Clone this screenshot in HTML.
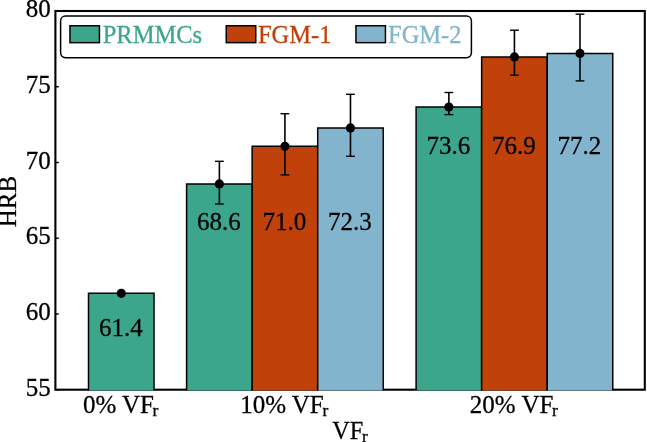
<!DOCTYPE html><html><head><meta charset="utf-8"><style>html,body{margin:0;padding:0;background:#fff;overflow:hidden}svg{display:block}text{font-family:"Liberation Serif",serif;stroke:#000;stroke-width:0.28px}#w{position:absolute;left:0;top:0;width:647px;height:442px;will-change:transform}</style></head><body><div id="w">
<svg width="647" height="442" viewBox="0 0 647 442">
<rect width="647" height="442" fill="#fff"/>
<defs><clipPath id="ax"><rect x="55.4" y="11" width="589.4" height="379.6"/></clipPath></defs>
<rect x="55.4" y="11" width="589.4" height="378.7" fill="none" stroke="#000" stroke-width="2.1"/>
<line x1="55.4" y1="389.75" x2="58.8" y2="389.75" stroke="#000" stroke-width="1.4"/>
<text x="50.8" y="395.95" text-anchor="end" font-family="Liberation Serif" font-size="25">55</text>
<line x1="55.4" y1="314.00" x2="58.8" y2="314.00" stroke="#000" stroke-width="1.4"/>
<text x="50.8" y="320.20" text-anchor="end" font-family="Liberation Serif" font-size="25">60</text>
<line x1="55.4" y1="238.25" x2="58.8" y2="238.25" stroke="#000" stroke-width="1.4"/>
<text x="50.8" y="244.45" text-anchor="end" font-family="Liberation Serif" font-size="25">65</text>
<line x1="55.4" y1="162.50" x2="58.8" y2="162.50" stroke="#000" stroke-width="1.4"/>
<text x="50.8" y="168.70" text-anchor="end" font-family="Liberation Serif" font-size="25">70</text>
<line x1="55.4" y1="86.75" x2="58.8" y2="86.75" stroke="#000" stroke-width="1.4"/>
<text x="50.8" y="92.95" text-anchor="end" font-family="Liberation Serif" font-size="25">75</text>
<line x1="55.4" y1="11.00" x2="58.8" y2="11.00" stroke="#000" stroke-width="1.4"/>
<text x="50.8" y="17.20" text-anchor="end" font-family="Liberation Serif" font-size="25">80</text>
<g clip-path="url(#ax)">
<path d="M88.50 395 V293.30 H154.05 V395" fill="#3BA68B" stroke="#000" stroke-width="1.5"/>
<path d="M186.60 395 V183.90 H252.15 V395" fill="#3BA68B" stroke="#000" stroke-width="1.5"/>
<path d="M252.15 395 V146.30 H317.70 V395" fill="#C0410A" stroke="#000" stroke-width="1.5"/>
<path d="M317.70 395 V127.90 H383.25 V395" fill="#82B4CE" stroke="#000" stroke-width="1.5"/>
<path d="M416.10 395 V107.00 H481.65 V395" fill="#3BA68B" stroke="#000" stroke-width="1.5"/>
<path d="M481.65 395 V56.90 H547.20 V395" fill="#C0410A" stroke="#000" stroke-width="1.5"/>
<path d="M547.20 395 V53.40 H612.75 V395" fill="#82B4CE" stroke="#000" stroke-width="1.5"/>
</g>
<circle cx="121.28" cy="293.30" r="4.6" fill="#000"/>
<line x1="219.38" y1="161.30" x2="219.38" y2="204.00" stroke="#000" stroke-width="1.6"/>
<line x1="214.97" y1="161.30" x2="223.78" y2="161.30" stroke="#000" stroke-width="1.4"/>
<line x1="214.97" y1="204.00" x2="223.78" y2="204.00" stroke="#000" stroke-width="1.4"/>
<circle cx="219.38" cy="183.90" r="4.6" fill="#000"/>
<line x1="284.92" y1="113.70" x2="284.92" y2="174.90" stroke="#000" stroke-width="1.6"/>
<line x1="280.52" y1="113.70" x2="289.32" y2="113.70" stroke="#000" stroke-width="1.4"/>
<line x1="280.52" y1="174.90" x2="289.32" y2="174.90" stroke="#000" stroke-width="1.4"/>
<circle cx="284.92" cy="146.30" r="4.6" fill="#000"/>
<line x1="350.47" y1="94.30" x2="350.47" y2="156.30" stroke="#000" stroke-width="1.6"/>
<line x1="346.07" y1="94.30" x2="354.87" y2="94.30" stroke="#000" stroke-width="1.4"/>
<line x1="346.07" y1="156.30" x2="354.87" y2="156.30" stroke="#000" stroke-width="1.4"/>
<circle cx="350.47" cy="127.90" r="4.6" fill="#000"/>
<line x1="448.88" y1="92.50" x2="448.88" y2="114.60" stroke="#000" stroke-width="1.6"/>
<line x1="444.48" y1="92.50" x2="453.27" y2="92.50" stroke="#000" stroke-width="1.4"/>
<line x1="444.48" y1="114.60" x2="453.27" y2="114.60" stroke="#000" stroke-width="1.4"/>
<circle cx="448.88" cy="107.00" r="4.6" fill="#000"/>
<line x1="514.43" y1="30.20" x2="514.43" y2="75.10" stroke="#000" stroke-width="1.6"/>
<line x1="510.03" y1="30.20" x2="518.83" y2="30.20" stroke="#000" stroke-width="1.4"/>
<line x1="510.03" y1="75.10" x2="518.83" y2="75.10" stroke="#000" stroke-width="1.4"/>
<circle cx="514.43" cy="56.90" r="4.6" fill="#000"/>
<line x1="579.98" y1="14.20" x2="579.98" y2="80.90" stroke="#000" stroke-width="1.6"/>
<line x1="575.58" y1="14.20" x2="584.38" y2="14.20" stroke="#000" stroke-width="1.4"/>
<line x1="575.58" y1="80.90" x2="584.38" y2="80.90" stroke="#000" stroke-width="1.4"/>
<circle cx="579.98" cy="53.40" r="4.6" fill="#000"/>
<text x="120.78" y="335.50" text-anchor="middle" font-family="Liberation Serif" font-size="25">61.4</text>
<text x="218.88" y="229.70" text-anchor="middle" font-family="Liberation Serif" font-size="25">68.6</text>
<text x="284.42" y="229.70" text-anchor="middle" font-family="Liberation Serif" font-size="25">71.0</text>
<text x="349.97" y="229.70" text-anchor="middle" font-family="Liberation Serif" font-size="25">72.3</text>
<text x="448.38" y="154.10" text-anchor="middle" font-family="Liberation Serif" font-size="25">73.6</text>
<text x="513.93" y="154.10" text-anchor="middle" font-family="Liberation Serif" font-size="25">76.9</text>
<text x="579.48" y="154.10" text-anchor="middle" font-family="Liberation Serif" font-size="25">77.2</text>
<text x="120.65" y="412.5" text-anchor="middle" font-family="Liberation Serif" font-size="25">0% VF<tspan font-size="17.5" dx="-1.4" dy="3.6">r</tspan></text>
<text x="284.20" y="412.5" text-anchor="middle" font-family="Liberation Serif" font-size="25">10% VF<tspan font-size="17.5" dx="-1.4" dy="3.6">r</tspan></text>
<text x="513.80" y="412.5" text-anchor="middle" font-family="Liberation Serif" font-size="25">20% VF<tspan font-size="17.5" dx="-1.4" dy="3.6">r</tspan></text>
<text x="350.0" y="438.5" text-anchor="middle" font-family="Liberation Serif" font-size="24.2">VF<tspan font-size="17" dx="-1.2" dy="3.4">r</tspan></text>
<text transform="translate(16.3 201.6) rotate(-90)" x="0" y="0" text-anchor="middle" font-family="Liberation Serif" font-size="25">HRB</text>
<rect x="60.6" y="16.1" width="410.8" height="41.55" rx="4.8" fill="#fff" stroke="#000" stroke-width="1.5"/>
<rect x="69.95" y="25.75" width="29.5" height="16.9" fill="#3BA68B" stroke="#000" stroke-width="1.5"/>
<text x="102.7" y="42.7" font-family="Liberation Serif" font-size="24.5" fill="#3BA68B" style="stroke:#3BA68B">PRMMCs</text>
<rect x="226.25" y="25.75" width="29.5" height="16.9" fill="#C0410A" stroke="#000" stroke-width="1.5"/>
<text x="257.9" y="42.7" font-family="Liberation Serif" font-size="24.5" fill="#C0410A" style="stroke:#C0410A">FGM-1</text>
<rect x="355.95" y="25.75" width="29.5" height="16.9" fill="#82B4CE" stroke="#000" stroke-width="1.5"/>
<text x="388.0" y="42.7" font-family="Liberation Serif" font-size="24.5" fill="#82B4CE" style="stroke:#82B4CE">FGM-2</text>
</svg></div></body></html>
